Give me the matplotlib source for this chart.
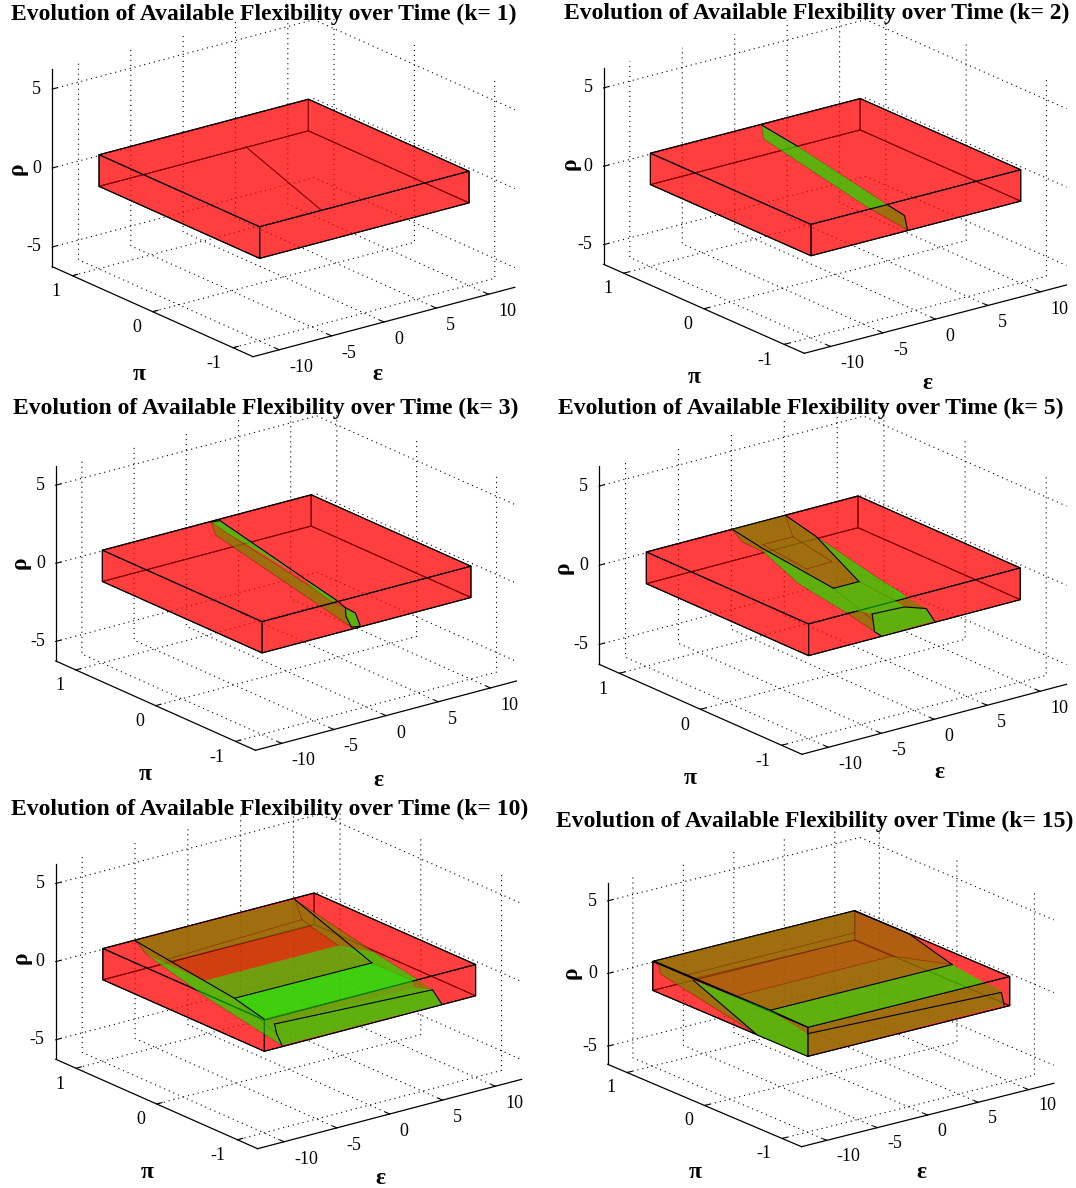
import numpy as np
import matplotlib
matplotlib.use('Agg')
import matplotlib.pyplot as plt
from mpl_toolkits.mplot3d import proj3d
from mpl_toolkits.mplot3d.art3d import Poly3DCollection

plt.rcParams['font.family'] = ['Liberation Serif', 'DejaVu Serif']

W, H = 1076, 1188

eps_ticks = [-10, -5, 0, 5, 10]
pi_ticks = [-1, 0, 1]
rho_ticks = [-5, 0, 5]
eps_lim = (-12.5, 12.5)
pi_lim = (-1.25, 1.25)
rho_lim = (-6.25, 6.25)
box_eps = (-10, 10)
box_pi = (-1, 1)
box_rho = (-1, 1)

k_values = [1, 2, 3, 5, 10, 15]

# k=1 set is only a line
k1_line_eps = [4.07, -4.1]
k1_line_pi = [1, -1]
k1_line_rho = [-1, 1]

# vertices of the green set as (eps, pi), they sit on rho = pi
k2_pts = {'A': (0.5, 0.98), 'E': (0.68, 0.56), 'F': (0.57, -0.57), 'G': (0.58, -0.79),
          'D': (-0.75, -1.0), 'H': (-1.04, -0.565), 'B': (-0.83, 0.78)}
k3_pts = {'a': (0.33, 0.98), 'b': (1.08, 0.97), 'c': (0.26, 0.76), 'd': (0.69, -0.14),
          'f': (0.28, -0.28), 'g': (0.58, -0.55), 'h': (0.09, -0.57), 'i': (0.4, -0.69),
          'j': (0.51, -0.8), 'k': (-0.54, -1.0), 'l': (-1.25, -0.98), 'm': (-0.47, -0.81),
          'n': (-0.74, 0.79)}
k5_pts = {'A': (-1.91, 1.0), 'B': (3.11, 0.99), 'C': (2.95, 0.59), 'D': (1.09, -0.18),
          'E': (-1.31, -0.18), 'F': (-1.88, 0.62), 'G': (-2.55, 0.78), 'H': (-2.19, 0.56),
          'I': (-3.15, 0.01), 'J': (-3.01, -0.55), 'K': (-2.08, -0.57), 'L': (-1.41, -0.67),
          'M': (-3.11, -0.92), 'N': (-2.0, -0.75), 'O': (1.47, -0.69), 'P': (2.77, -0.79),
          'Q': (2.02, -0.99), 'R': (-3.11, -1.0), 'S': (1.52, -0.57), 'U': (2.64, -0.57),
          'W': (1.37, 0.67), 'w': (-1.47, 0.67), 'X': (-1.1, 0.18), 'Y': (1.37, 0.19),
          'V': (2.72, -0.28), 'T': (2.44, -0.49)}
k10_pts = {'A': (-7.04, 0.98), 'B': (8.0, 0.97), 'q': (6.36, 0.67), 'a': (-6.81, 0.57),
           'b': (6.23, 0.55), 'c': (6.07, 0.18), 'd': (-6.64, 0.18), 'e': (6.49, -0.18),
           'f': (-6.44, -0.17), 'g': (-6.63, -0.56), 'h': (7.33, -0.57), 'i': (-6.47, -0.67),
           'j': (7.72, -0.77), 'k': (6.85, -1.0), 'l': (-8.21, -0.99), 'm': (-7.33, -0.81),
           'n': (-7.71, 0.75), 'o': (-8.22, -0.07), 'p': (7.76, -0.04), 'r': (7.81, -0.57),
           's': (6.75, -0.67), 't': (-6.87, 0.61)}
k15_pts = {'L': (-9.89, 0.99), 'B': (9.92, 0.99), 'a': (11.13, 0.44), 'b': (10.65, -0.18),
           'c': (-7.37, -0.18), 'd': (-9.39, 0.58), 'o': (6.57, 0.55), 'p': (7.41, 0.17),
           'q': (-8.0, 0.16), 'e': (10.82, -0.57), 'T': (-6.69, -0.57), 'f': (11.2, -0.715),
           'g': (-7.45, -0.67), 'h': (9.65, -0.98), 'Z': (-10.0, -1.0), 'i': (10.92, -0.78),
           'j': (-9.35, 0.55), 'k': (-11.09, -0.48), 'l': (-10.94, 0.77), 'm': (-10.1, 0.9),
           'r': (7.37, 0.66), 's': (-9.07, 0.66)}

k2_regions = [('ABHFE', 'mid', 'over'), ('HFGD', 'mid', 'mid')]
k3_regions = [('abdc', 'mid', 'over'), ('dghf', 'mid', 'over'),
              ('acfhimln', 'mid', 'mid'), ('ijklm', 'mid', 'over')]
k5_regions = [('ABCDEF', 'mid', 'mid'), ('AFHG', 'mid', 'mid'), ('FEJIH', 'mid', 'over'),
              ('EDSOLKJ', 'mid', 'over'), ('CUSD', 'mid', 'over'), ('VUT', 'over', 'over'),
              ('SUPO', 'mid', 'mid'), ('JKLNM', 'mid', 'mid'), ('LOPQRMN', 'mid', 'over')]
k10_regions = [('ABqba', 'mid', 'mid'), ('abcd', 'under', 'under'), ('dcef', 'under', 'over'),
               ('fehg', 'over', 'over'), ('ghsi', 'under', 'over'), ('isjklm', 'mid', 'over'),
               ('hrjs', 'mid', 'mid'), ('Bpcbq', 'mid', 'mid'), ('cprhe', 'mid', 'over'),
               ('Aadn', 'mid', 'mid'), ('ndfgimlo', 'mid', 'over')]
k15_regions = [('LBod', 'mid', 'mid'), ('dopq', 'under', 'mid'), ('qpbc', 'mid', 'mid'),
               ('Babpo', 'under', 'mid'), ('cbeT', 'mid', 'over'), ('Tefg', 'mid', 'mid'),
               ('gfihZ', 'mid', 'mid'), ('jcgZk', 'mid', 'over'), ('cTg', 'mid', 'mid'),
               ('Ldjklm', 'mid', 'mid')]

# polylines: strong ones on top, weak ones under the front faces
k2_strong = ['AE', 'FGD']
k2_weak = ['EF', 'ABHD']
k3_strong = ['abdgijkl', 'iml']
k3_weak = ['anl', 'acfhi']
k5_strong = ['AFE', 'BCD', 'ED', 'LOPQ', 'LMR']
k5_weak = ['AGHIJM', 'wW', 'XY', 'WY', 'wX', 'BW', 'CU', 'EN', 'DS']
k10_strong = ['Afg', 'Be', 'fe', 'ij', 'iml', 'jk']
k10_weak = ['Anol', 'ab', 'tq', 'qB', 'qb', 'bc', 'pr', 'Bp', 'fm', 'eh']
k15_strong = ['LcT', 'cb', 'gih', 'jk', 'Bab']
k15_weak = ['Lmlk', 'do', 'qp', 'op', 'rs', 'pb']

panel_pts = [None, k2_pts, k3_pts, k5_pts, k10_pts, k15_pts]
panel_regions = [[], k2_regions, k3_regions, k5_regions, k10_regions, k15_regions]
panel_strong = [[], k2_strong, k3_strong, k5_strong, k10_strong, k15_strong]
panel_weak = [[], k2_weak, k3_weak, k5_weak, k10_weak, k15_weak]

# where each panel goes, in pixels: axis corners
corner_left = [(52.3, 266.7), (603.6, 264.3), (55.8, 661), (599.1, 664.3), (55.8, 1059.3), (607.7, 1064.3)]
corner_front = [(253.1, 356.7), (804.3, 353.3), (255.5, 750.3), (801.9, 754.3), (257.6, 1148.7), (801.5, 1146.7)]
corner_right = [(514.8, 287.3), (1066.5, 285), (516.5, 681), (1066.5, 684.3), (521.7, 1079.3), (1053.8, 1083.3)]
corner_top = [69.3, 68.3, 465.7, 466.3, 864, 882.7]
title_xy = [(263.4, 14), (817, 13), (266, 408), (811, 408), (270, 809), (815, 821)]
rho_xy = [(17, 169), (570, 164), (20, 563), (563, 568), (21, 958), (571, 973)]
pi_xy = [(139.5, 375), (694.5, 378), (145.7, 775), (690, 778), (147, 1173), (695.5, 1172)]
eps_xy = [(377, 375), (927, 383), (378, 780), (939, 773), (380.5, 1178), (921, 1172)]

RED = (1, 0, 0, 0.5)
GREEN = (0, 1, 0, 0.5)
STAGE = {'under': 1, 'back': 2, 'mid': 3, 'weak': 3.5, 'front': 4, 'over': 5, 'strong': 6, 'text': 7}


def corner_pixels(ax):
    ax.apply_aspect()
    xs = [eps_lim[0], eps_lim[1], eps_lim[0]]
    ys = [pi_lim[0], pi_lim[0], pi_lim[1]]
    zs = [rho_lim[0]] * 3
    px, py, _ = proj3d.proj_transform(xs, ys, zs, ax.get_proj())
    return ax.transData.transform(np.column_stack([px, py]))


def place_axes(ax, i):
    # work out the view and the box from the axis corners of the panel
    lft, frn, rgt = map(np.array, (corner_left[i], corner_front[i], corner_right[i]))
    ex = rgt - frn
    ey = lft - frn
    s = np.sqrt((-ex[1] / ex[0]) * (ey[1] / ey[0]))
    t = (-ex[1] / ex[0]) / s
    elev = np.degrees(np.arcsin(s))
    alpha = np.degrees(np.arctan(t))
    ax.view_init(elev=elev, azim=-90 - alpha)
    lx = ex[0] / np.cos(np.radians(alpha))
    ly = -ey[0] / np.sin(np.radians(alpha))
    lz = (lft[1] - corner_top[i]) / np.cos(np.radians(elev))
    side = 600
    ax.set_position([(frn[0] - side / 2) / W, 1 - (frn[1] - 100 + side / 2) / H, side / W, side / H])
    ax.set_box_aspect((lx, ly, lz))
    c = corner_pixels(ax)
    zoom = ex[0] / (c[1, 0] - c[0, 0])
    ax.set_box_aspect((lx, ly, lz), zoom=zoom)
    c = corner_pixels(ax)
    pos = ax.get_position(original=True)
    dx = (frn[0] - c[0, 0]) / W
    dy = ((H - frn[1]) - c[0, 1]) / H
    ax.set_position([pos.x0 + dx, pos.y0 + dy, pos.width, pos.height])
    ax.apply_aspect()


def add_face(ax, verts, color, stage, edge='none'):
    poly = Poly3DCollection([verts], facecolors=[color], edgecolors=[edge] if edge != 'none' else 'none',
                            linewidths=0.8, zorder=STAGE[stage])
    ax.add_collection3d(poly, autolim=False)


def draw_box(ax, faces, stage):
    for f in faces:
        add_face(ax, f, RED, stage, edge=(0, 0, 0, 1))


def box_faces():
    e0, e1 = box_eps
    p0, p1 = box_pi
    r0, r1 = box_rho
    back = [[(e0, p0, r0), (e1, p0, r0), (e1, p1, r0), (e0, p1, r0)],
            [(e0, p1, r0), (e1, p1, r0), (e1, p1, r1), (e0, p1, r1)],
            [(e1, p0, r0), (e1, p1, r0), (e1, p1, r1), (e1, p0, r1)]]
    front = [[(e0, p0, r1), (e1, p0, r1), (e1, p1, r1), (e0, p1, r1)],
             [(e0, p0, r0), (e1, p0, r0), (e1, p0, r1), (e0, p0, r1)],
             [(e0, p0, r0), (e0, p1, r0), (e0, p1, r1), (e0, p0, r1)]]
    return back, front


def style_axes(ax):
    ax.set_proj_type('ortho')
    ax.patch.set_visible(False)
    ax.set_xlim(*eps_lim, view_margin=0)
    ax.set_ylim(*pi_lim, view_margin=0)
    ax.set_zlim(*rho_lim, view_margin=0)
    ax.set_xticks(eps_ticks)
    ax.set_yticks(pi_ticks)
    ax.set_zticks(rho_ticks)
    for axis in (ax.xaxis, ax.yaxis, ax.zaxis):
        axis.set_pane_color((1, 1, 1, 0))
        axis.pane.set_edgecolor((1, 1, 1, 0))
        axis.line.set_color('k')
        axis.line.set_linewidth(0.9)
        axis._axinfo['grid'].update(color='k', linestyle=(0, (1, 3.5)), linewidth=0.8)
        axis._axinfo['tick'].update(inward_factor=0.0, outward_factor=0.25)
        axis.set_ticklabels([])
        for lab in axis.get_ticklabels():
            lab.set_visible(False)
        axis.set_tick_params(label1On=False, label2On=False)


def label_at(ax, x, y, z, txt, ha):
    px, py, _ = proj3d.proj_transform(x, y, z, ax.get_proj())
    ax.text2D(px, py, txt, transform=ax.transData, fontsize=13, ha=ha, va='center_baseline',
              zorder=STAGE['text'], clip_on=False)


def tick_labels(ax):
    # labels are offset from the ticks in data units, the same in every panel
    for t in eps_ticks:
        label_at(ax, t - 1.475, pi_lim[0] - 0.317, rho_lim[0], str(t), 'left')
    for t in pi_ticks:
        label_at(ax, eps_lim[0] - 2.56, t - 0.19, rho_lim[0], str(t), 'right')
    for t in rho_ticks:
        label_at(ax, eps_lim[0] - 1.05, pi_lim[1], t + 0.31, str(t), 'right')


fig = plt.figure(figsize=(W / 100, H / 100), dpi=100)
back_faces, front_faces = box_faces()

for i, k in enumerate(k_values):
    ax = fig.add_axes([0, 0, 0.5, 0.5], projection='3d', computed_zorder=False)
    style_axes(ax)
    place_axes(ax, i)
    tick_labels(ax)

    draw_box(ax, back_faces, 'back')
    draw_box(ax, front_faces, 'front')

    if i == 0:
        ax.plot(k1_line_eps, k1_line_pi, k1_line_rho, color='k', lw=0.8, zorder=STAGE['mid'])
    else:
        pts = panel_pts[i]
        for names, s1, s2 in panel_regions[i]:
            verts = [(pts[n][0], pts[n][1], pts[n][1]) for n in names]
            add_face(ax, verts, GREEN, s1)
            add_face(ax, verts, GREEN, s2)
        for names in panel_weak[i]:
            xy = np.array([pts[n] for n in names])
            ax.plot(xy[:, 0], xy[:, 1], xy[:, 1], color='k', lw=0.6, alpha=0.45, zorder=STAGE['weak'])
        for names in panel_strong[i]:
            xy = np.array([pts[n] for n in names])
            ax.plot(xy[:, 0], xy[:, 1], xy[:, 1], color='k', lw=0.8, zorder=STAGE['strong'])

    tx, ty = title_xy[i]
    fig.text(tx / W, 1 - ty / H, 'Evolution of Available Flexibility over Time (k= %d)' % k,
             fontsize=17, fontweight='bold', ha='center', va='center')
    for txt, (lx, ly), rot in (('ρ', rho_xy[i], 90), ('π', pi_xy[i], 0), ('ε', eps_xy[i], 0)):
        fig.text(lx / W, 1 - ly / H, txt, fontsize=17, fontweight='bold', ha='center', va='center', rotation=rot)

fig.savefig('out.png', dpi=100)
